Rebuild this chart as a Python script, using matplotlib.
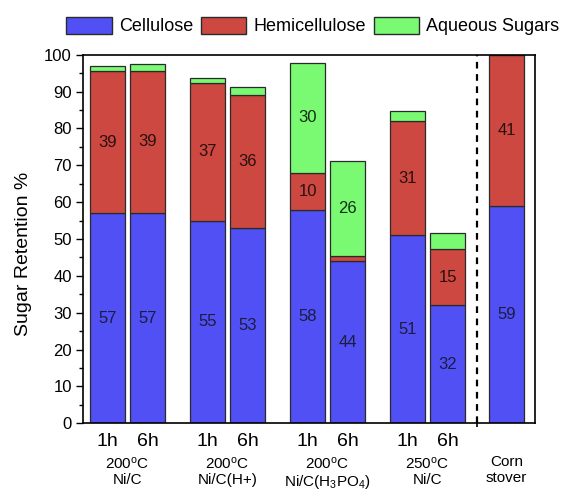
import matplotlib
matplotlib.use("Agg")
import matplotlib.pyplot as plt
from matplotlib.patches import Patch

plt.rcParams['font.family'] = ['Liberation Sans', 'DejaVu Sans']
plt.rcParams['mathtext.fontset'] = 'custom'
plt.rcParams['mathtext.rm'] = 'Liberation Sans'
plt.rcParams['mathtext.it'] = 'Liberation Sans'

# ---- data ----
bar_labels = ['1h', '6h', '1h', '6h', '1h', '6h', '1h', '6h', '']
group_labels = ['200$^{\\rm o}$C\nNi/C', '200$^{\\rm o}$C\nNi/C(H+)', '200$^{\\rm o}$C\nNi/C(H$_3$PO$_4$)',
                '250$^{\\rm o}$C\nNi/C', 'Corn\nstover']
cellulose = [57, 57, 55, 53, 58, 44, 51, 32, 59]
hemicellulose = [38.5, 38.7, 37.3, 36.2, 10.0, 1.4, 31.0, 15.3, 41]
aqueous = [1.3, 1.7, 1.4, 2.1, 29.8, 25.8, 2.8, 4.2, 0]
cell_text = ['57', '57', '55', '53', '58', '44', '51', '32', '59']
hemi_text = ['39', '39', '37', '36', '10', '', '31', '15', '41']
aq_text = ['', '', '', '', '30', '26', '', '', '']

# ---- layout ----
positions = [1, 2, 3.5, 4.5, 6, 7, 8.5, 9.5, 10.975]
group_centers = [1.5, 4.0, 6.5, 9.0, 10.975]
sep_x = 10.24
width = 0.875

c_blue = '#5050F5'
c_red = '#CC4840'
c_green = '#7AFA73'
edge = '#2a2a2a'

fig = plt.figure(figsize=(5.66, 4.9), dpi=100)
ax = fig.add_axes([83/566, 1-423.3/490, (535-83)/566, (423.3-54.7)/490])

bottom2 = [c + h for c, h in zip(cellulose, hemicellulose)]
ax.bar(positions, cellulose, width, color=c_blue, edgecolor=edge, linewidth=0.9, zorder=2)
ax.bar(positions, hemicellulose, width, bottom=cellulose, color=c_red, edgecolor=edge, linewidth=0.9, zorder=2)
ax.bar(positions, aqueous, width, bottom=bottom2, color=c_green, edgecolor=edge, linewidth=0.9, zorder=2)

for x, c, h, a, tc, th, ta in zip(positions, cellulose, hemicellulose, aqueous, cell_text, hemi_text, aq_text):
    if tc:
        ax.text(x, c/2, tc, ha='center', va='center', fontsize=12, color='#1c1c40', zorder=3)
    if th:
        ax.text(x, c + h/2, th, ha='center', va='center', fontsize=12, color='#2a1010', zorder=3)
    if ta:
        ax.text(x, c + h + a/2, ta, ha='center', va='center', fontsize=12, color='#103010', zorder=3)

ax.axvline(sep_x, color='black', linestyle=(0, (3, 2.5)), linewidth=1.6, zorder=1)

ax.set_xlim(0.3875, 11.6875)
ax.set_ylim(0, 100)
ax.set_yticks(range(0, 101, 10))
ax.set_yticks(range(5, 100, 10), minor=True)
ax.tick_params(axis='y', which='major', direction='out', length=5, width=1, labelsize=12, pad=3)
ax.tick_params(axis='y', which='minor', direction='out', length=3, width=1)
ax.set_xticks(positions)
ax.set_xticklabels(bar_labels, fontsize=14)
ax.set_xticks([sep_x], minor=True)
ax.tick_params(axis='x', which='major', length=0, pad=7)
ax.tick_params(axis='x', which='minor', direction='out', length=3, width=1.2)
for s in ax.spines.values():
    s.set_linewidth(1.2)

for gx, gl in zip(group_centers, group_labels):
    ax.text(gx, -0.087, gl, transform=ax.get_xaxis_transform(), ha='center', va='top',
            fontsize=11, linespacing=1.12)

ax.set_ylabel('Sugar Retention %', fontsize=14)
ax.yaxis.set_label_coords(-0.113, 0.46)

handles = [Patch(facecolor=c_blue, edgecolor=edge, label='Cellulose'),
           Patch(facecolor=c_red, edgecolor=edge, label='Hemicellulose'),
           Patch(facecolor=c_green, edgecolor=edge, label='Aqueous Sugars')]
fig.legend(handles=handles, loc='center', bbox_to_anchor=(313/566, 1-26/490), ncol=3,
           frameon=False, fontsize=13, handlelength=2.5, handleheight=1.1,
           handletextpad=0.4, columnspacing=0.45, borderpad=0)

fig.savefig('out.png', dpi=100)
